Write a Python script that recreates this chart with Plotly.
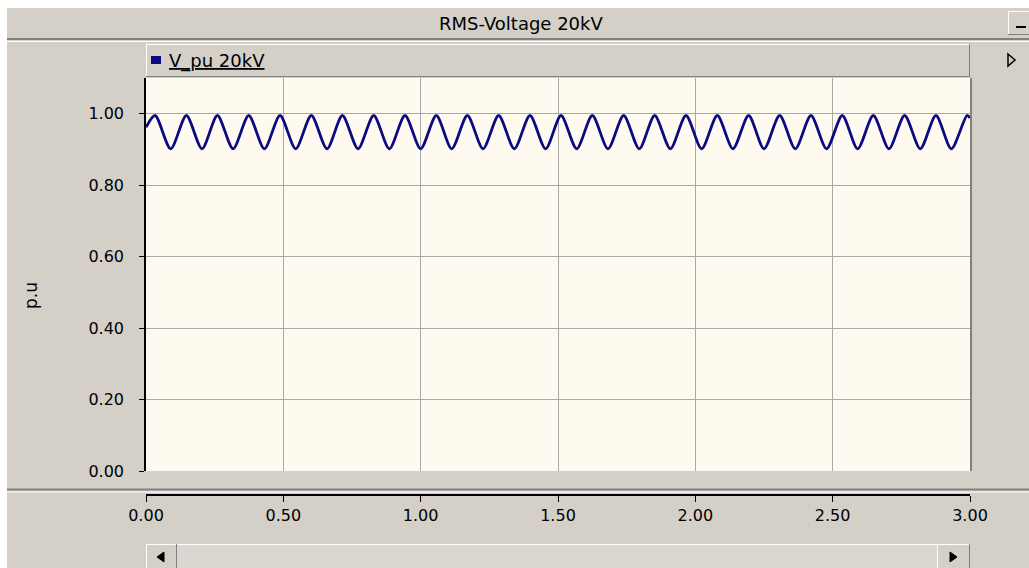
import plotly.graph_objects as go

# RMS voltage on the 20 kV bus (p.u.), sampled at the turning points of the swing
t_s = [0.000,
       0.033, 0.090, 0.147, 0.204, 0.260, 0.317, 0.374, 0.431, 0.488, 0.545,
       0.602, 0.659, 0.715, 0.772, 0.829, 0.886, 0.943, 1.000, 1.057, 1.113,
       1.170, 1.227, 1.284, 1.341, 1.398, 1.455, 1.511, 1.568, 1.625, 1.682,
       1.739, 1.796, 1.852, 1.909, 1.966, 2.023, 2.080, 2.137, 2.194, 2.250,
       2.307, 2.364, 2.421, 2.478, 2.535, 2.591, 2.648, 2.705, 2.762, 2.819,
       2.876, 2.932, 2.989, 3.000]
v_pu = [0.962,
        0.995, 0.902, 0.995, 0.902, 0.995, 0.902, 0.995, 0.902, 0.995, 0.902,
        0.995, 0.902, 0.995, 0.902, 0.995, 0.902, 0.995, 0.902, 0.995, 0.902,
        0.995, 0.902, 0.995, 0.902, 0.995, 0.902, 0.995, 0.902, 0.995, 0.902,
        0.995, 0.902, 0.995, 0.902, 0.995, 0.902, 0.995, 0.902, 0.995, 0.902,
        0.995, 0.902, 0.995, 0.902, 0.995, 0.902, 0.995, 0.902, 0.995, 0.902,
        0.995, 0.902, 0.995, 0.988]

x_ticks = [0.0, 0.5, 1.0, 1.5, 2.0, 2.5, 3.0]
y_ticks = [0.0, 0.2, 0.4, 0.6, 0.8, 1.0]

W, H = 1029, 568
FACE = "#D4D0C8"
SHADOW = "#808080"
FONT = "DejaVu Sans"


def X(px):
    return px / W


def Y(py):
    return 1 - py / H


def rect(x0, y0, x1, y1, fill, line=None, lw=0):
    return dict(type="rect", xref="paper", yref="paper",
                x0=X(x0), x1=X(x1), y0=Y(y1), y1=Y(y0),
                fillcolor=fill, line=dict(color=line or fill, width=lw),
                layer="below")


def hline(x0, x1, y, color, w=1):
    return dict(type="line", xref="paper", yref="paper",
                x0=X(x0), x1=X(x1), y0=Y(y), y1=Y(y),
                line=dict(color=color, width=w))


def vline(x, y0, y1, color, w=1):
    return dict(type="line", xref="paper", yref="paper",
                x0=X(x), x1=X(x), y0=Y(y0), y1=Y(y1),
                line=dict(color=color, width=w))


def bevel(x0, y0, x1, y1):
    # raised 3D button edges: light top/left, dark bottom/right
    return [rect(x0, y0, x1, y1, FACE),
            hline(x0, x1, y0 + 0.5, "white"), vline(x0 + 0.5, y0, y1, "white"),
            hline(x0, x1, y1 - 0.5, SHADOW), vline(x1 - 0.5, y0, y1, SHADOW)]


def tri(pts, color="black"):
    path = "M " + " L ".join(f"{X(a)},{Y(b)}" for a, b in pts) + " Z"
    return dict(type="path", xref="paper", yref="paper", path=path,
                fillcolor=color, line=dict(color=color, width=1))


fig = go.Figure()
fig.add_trace(go.Scatter(
    x=t_s, y=v_pu, mode="lines", name="V_pu 20kV",
    line=dict(color="#0A0A82", width=2.8, shape="spline", smoothing=0.8),
    showlegend=False, hoverinfo="x+y",
))

shapes = []
# window frame: white outer edge, title bar separator
shapes.append(rect(0, 0, W, 8, "white"))
shapes.append(rect(0, 0, 7, H, "white"))
shapes.append(hline(7, W, 39, SHADOW, 2))
shapes.append(hline(7, W, 41.5, "white", 1))
# minimise button in the title bar
shapes += bevel(1008, 11, 1030, 35)
shapes.append(hline(1016, 1026, 27, "black", 2))
# legend strip above the plot
shapes += bevel(146, 44, 970, 77)
shapes.append(rect(151, 56, 161, 64, "#0A0A82"))
# right edge shadow of the plot area
shapes.append(vline(971, 78, 471, SHADOW, 2))
# separator between the plot panel and the time axis panel
shapes.append(hline(7, W, 489.5, SHADOW, 2))
shapes.append(hline(7, W, 492, "white", 1))
# horizontal scroll bar
shapes.append(rect(146, 544, 970, 568, "#DAD7D0"))
shapes.append(hline(146, 970, 544.5, "white"))
shapes += bevel(146, 544, 177, 569)
shapes += bevel(937, 544, 970, 569)
shapes.append(tri([(157, 557), (164, 552), (164, 562)]))
shapes.append(tri([(957, 557), (950, 552), (950, 562)]))
# panel toggle arrow on the right
shapes.append(dict(type="path", xref="paper", yref="paper",
                   path=f"M {X(1008)},{Y(54)} L {X(1015)},{Y(60)} L {X(1008)},{Y(66)} Z",
                   fillcolor="rgba(0,0,0,0)", line=dict(color="black", width=1.5)))

annotations = [
    dict(text="RMS-Voltage 20kV", x=X(521), y=Y(24), xref="paper", yref="paper",
         showarrow=False, font=dict(family=FONT, size=18, color="black"),
         xanchor="center", yanchor="middle"),
    dict(text="<u>V_pu 20kV</u>", x=X(167), y=Y(61), xref="paper", yref="paper",
         showarrow=False, font=dict(family=FONT, size=18, color="black"),
         xanchor="left", yanchor="middle"),
    dict(text="p.u", x=X(31), y=Y(296), xref="paper", yref="paper",
         showarrow=False, textangle=-90, font=dict(family=FONT, size=17, color="black"),
         xanchor="center", yanchor="middle"),
]

fig.update_layout(
    template="none",
    width=W, height=H,
    margin=dict(l=0, r=0, t=0, b=0, pad=0),
    paper_bgcolor=FACE,
    plot_bgcolor="#FFFAF0",
    shapes=shapes,
    annotations=annotations,
    font=dict(family=FONT, size=16, color="black"),
    xaxis=dict(
        domain=[X(146), X(970)], range=[0, 3],
        anchor="free", position=Y(495),
        tickvals=x_ticks, tickformat=".2f",
        showline=True, linecolor="black", linewidth=1.5,
        ticks="outside", ticklen=6, tickcolor="black", tickwidth=1,
        showgrid=True, gridcolor="#A8A8A8", gridwidth=1,
        zeroline=False, fixedrange=True, automargin=False,
    ),
    yaxis=dict(
        domain=[Y(471), Y(78)], range=[0, 1.1],
        tickvals=y_ticks, tickformat=".2f",
        showline=True, linecolor="black", linewidth=1.5,
        ticks="outside", ticklen=5, tickcolor="black", tickwidth=1,
        ticklabelstandoff=12,
        showgrid=True, gridcolor="#A8A8A8", gridwidth=1,
        zeroline=False, fixedrange=True, automargin=False,
    ),
)

fig.write_html("out.html")
